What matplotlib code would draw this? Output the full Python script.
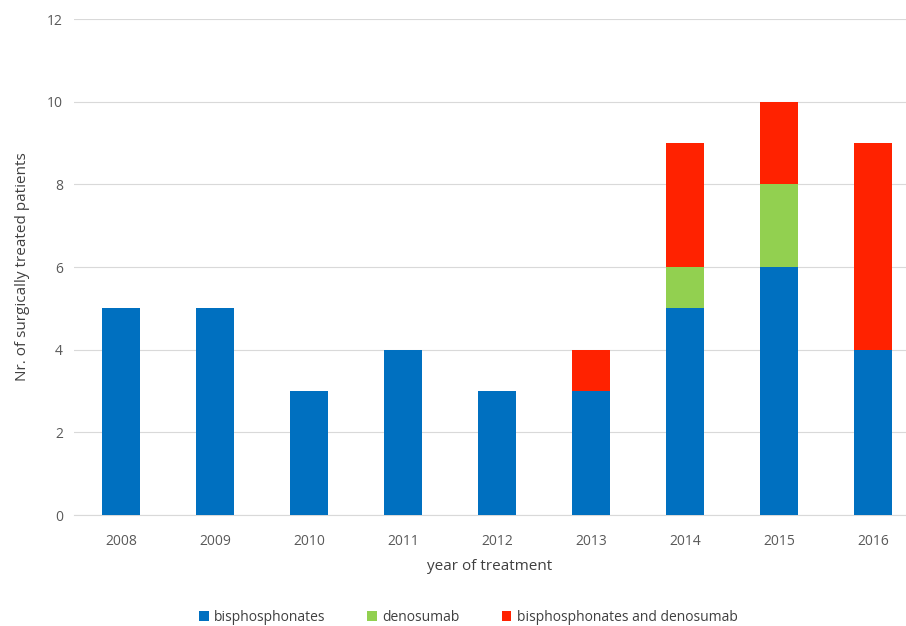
import matplotlib.pyplot as plt
import numpy as np

plt.rcParams['font.family'] = ['Open Sans', 'DejaVu Sans']

years = ['2008', '2009', '2010', '2011', '2012', '2013', '2014', '2015', '2016']
bisphosphonates = [5, 5, 3, 4, 3, 3, 5, 6, 4]
denosumab = [0, 0, 0, 0, 0, 0, 1, 2, 0]
both = [0, 0, 0, 0, 0, 1, 3, 2, 5]

series_names = ['bisphosphonates', 'denosumab', 'bisphosphonates and denosumab']
colors = ['#0070C0', '#92D050', '#FF2200']

fig = plt.figure(figsize=(9.06, 6.26), dpi=100)
ax = fig.add_axes([0.0817, 0.1773, 0.9183, 0.7923])

x = np.arange(len(years))
bottom = np.zeros(len(years))
for vals, name, col in zip([bisphosphonates, denosumab, both], series_names, colors):
    ax.bar(x, vals, width=0.4, bottom=bottom, color=col, label=name, zorder=3)
    bottom += np.array(vals)

ax.set_xlim(-0.5, 8.35)
ax.set_ylim(0, 12)
ax.set_yticks(range(0, 13, 2))
ax.set_xticks(x)
ax.set_xticklabels(years)
ax.grid(axis='y', color='#D9D9D9', linewidth=0.8, zorder=0)
for s in ['top', 'right', 'left']:
    ax.spines[s].set_visible(False)
ax.spines['bottom'].set_color('#D9D9D9')
ax.tick_params(axis='both', length=0, labelsize=10, colors='#595959', pad=8)
ax.tick_params(axis='x', pad=14)

ax.set_xlabel('year of treatment', fontsize=11, color='#404040', labelpad=7)
ax.set_ylabel('Nr. of surgically treated patients', fontsize=11, color='#404040', labelpad=12)

fig.legend(loc='lower center', bbox_to_anchor=(0.517, -0.018), ncol=3, frameon=False,
           fontsize=10, handlelength=0.7, handleheight=0.7, columnspacing=3.0,
           handletextpad=0.4, labelcolor='#404040')

fig.savefig('out.png', dpi=100)
